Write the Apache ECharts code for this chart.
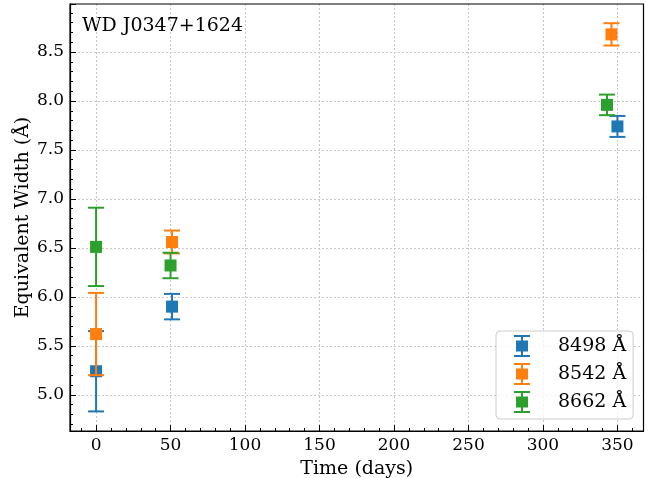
<!DOCTYPE html>
<html>
<head>
<meta charset="utf-8">
<script src="https://cdn.jsdelivr.net/npm/echarts@6/dist/echarts.min.js"></script>
<style>html,body{margin:0;padding:0;background:#fff}#c{width:652px;height:478px}</style>
</head>
<body>
<div id="c"></div>
<script>
// Data
const seriesNames = ['8498 Å', '8542 Å', '8662 Å'];
const time8498 = [0, 51, 350];
const ew8498   = [5.24, 5.90, 7.74];
const err8498  = [0.41, 0.13, 0.107];
const time8542 = [0, 51, 346];
const ew8542   = [5.62, 6.56, 8.68];
const err8542  = [0.42, 0.117, 0.114];
const time8662 = [0, 50, 343];
const ew8662   = [6.51, 6.32, 7.96];
const err8662  = [0.40, 0.13, 0.105];
const colors = ['#1f77b4', '#ff7f0e', '#2ca02c'];
const titleText = 'WD J0347+1624';

const FONT = 'DejaVu Serif';
const CAP = 8, MARK = 12, LW = 2;

function rows(t, v, e) { return t.map((x, i) => [x, v[i], e[i]]); }

function renderErr(params, api) {
  const x = api.value(0), y = api.value(1), e = api.value(2);
  const c = api.coord([x, y]);
  const top = api.coord([x, y + e]);
  const bot = api.coord([x, y - e]);
  const color = api.visual('color');
  const ls = { stroke: color, lineWidth: LW };
  return {
    type: 'group',
    children: [
      { type: 'line', shape: { x1: c[0], y1: top[1], x2: c[0], y2: bot[1] }, style: ls },
      { type: 'line', shape: { x1: c[0] - CAP, y1: top[1], x2: c[0] + CAP, y2: top[1] }, style: ls },
      { type: 'line', shape: { x1: c[0] - CAP, y1: bot[1], x2: c[0] + CAP, y2: bot[1] }, style: ls },
      { type: 'rect', shape: { x: c[0] - MARK / 2, y: c[1] - MARK / 2, width: MARK, height: MARK }, style: { fill: color } }
    ]
  };
}

const allData = [rows(time8498, ew8498, err8498), rows(time8542, ew8542, err8542), rows(time8662, ew8662, err8662)];
const icon = 'path://M0,0H16V2H0Z M7,2H9V20H7Z M2,5.5H14V16.5H2Z M0,20H16V22H0Z';

const chart = echarts.init(document.getElementById('c'), null, { renderer: 'canvas' });
chart.setOption({
  animation: false,
  backgroundColor: '#fff',
  color: colors,
  title: {
    text: titleText, left: 77, top: 12,
    textStyle: { fontFamily: FONT, fontSize: 19, fontWeight: 'normal', color: '#000' }
  },
  legend: {
    orient: 'vertical', left: 496, top: 331,
    padding: [4, 7, 6, 18],
    itemWidth: 16, itemHeight: 22, itemGap: 6,
    backgroundColor: 'rgba(255,255,255,0.8)',
    borderColor: '#cccccc', borderWidth: 1, borderRadius: 4,
    textStyle: { fontFamily: FONT, fontSize: 19, color: '#000', padding: [0, 0, 0, 23] },
    data: seriesNames.map(n => ({ name: n, icon: icon }))
  },
  grid: {
    left: 70, right: 8.5, top: 4, bottom: 47,
    outerBoundsMode: 'none', containLabel: false,
    show: true, borderColor: '#000', borderWidth: 1.2, backgroundColor: 'transparent', z: 3
  },
  xAxis: {
    type: 'value', min: -17.5, max: 367.5, splitNumber: 8, minInterval: 50, maxInterval: 50,
    name: 'Time (days)', nameLocation: 'middle', nameGap: 29, nameMoveOverlap: false,
    nameTextStyle: { fontFamily: FONT, fontSize: 19, color: '#000' },
    axisLine: { show: true, onZero: false, lineStyle: { color: '#000', width: 1.2 } },
    axisTick: { show: true, inside: true, length: 6, lineStyle: { color: '#000', width: 1 } },
    minorTick: { show: true, splitNumber: 5, length: 3, lineStyle: { color: '#000', width: 1 } },
    axisLabel: { showMinLabel: false, showMaxLabel: false, margin: 6, fontFamily: FONT, fontSize: 17, color: '#000' },
    splitLine: { show: true, showMinLine: false, showMaxLine: false, lineStyle: { color: '#c8c8c8', width: 1, type: [2, 2] } }
  },
  yAxis: {
    type: 'value', min: 4.63, max: 8.99, splitNumber: 8, minInterval: 0.5, maxInterval: 0.5,
    name: 'Equivalent Width (Å)', nameLocation: 'middle', nameGap: 37, nameMoveOverlap: false,
    nameTextStyle: { fontFamily: FONT, fontSize: 19, color: '#000' },
    axisLine: { show: true, onZero: false, lineStyle: { color: '#000', width: 1.2 } },
    axisTick: { show: true, inside: true, length: 6, lineStyle: { color: '#000', width: 1 } },
    minorTick: { show: true, splitNumber: 5, length: 3, lineStyle: { color: '#000', width: 1 } },
    axisLabel: { showMinLabel: false, showMaxLabel: false, margin: 6, fontFamily: FONT, fontSize: 17, color: '#000',
      formatter: v => v.toFixed(1) },
    splitLine: { show: true, showMinLine: false, showMaxLine: false, lineStyle: { color: '#c8c8c8', width: 1, type: [2, 2] } }
  },
  series: allData.map((d, i) => ({
    type: 'custom', name: seriesNames[i], renderItem: renderErr,
    itemStyle: { color: colors[i] },
    encode: { x: 0, y: [1, 2] },
    data: d, z: 2 + i
  }))
});
</script>
</body>
</html>
